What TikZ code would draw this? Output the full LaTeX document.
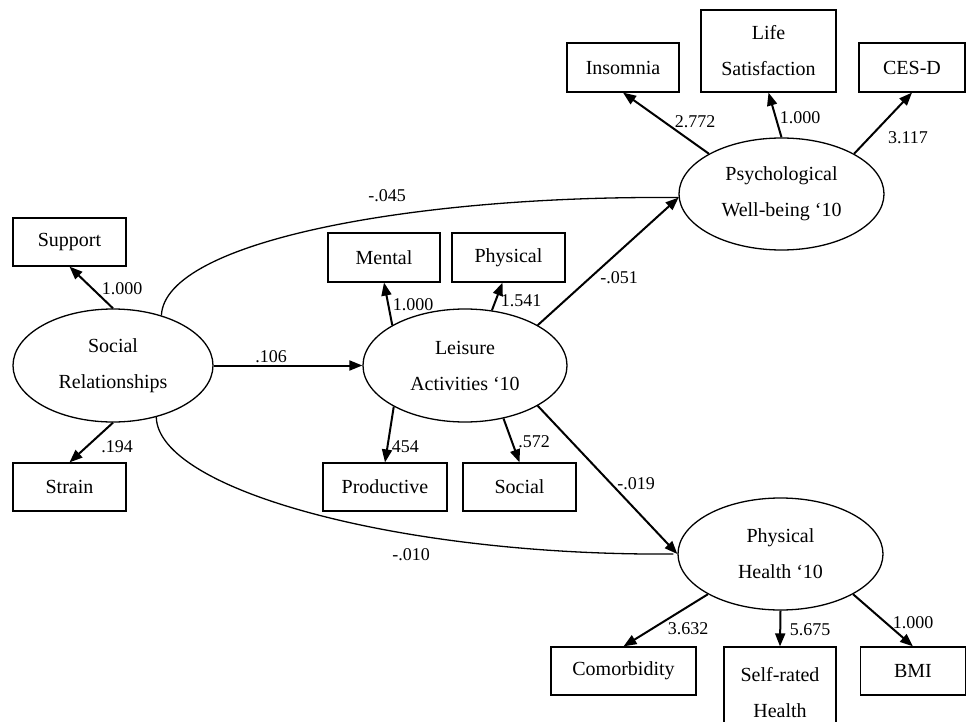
\documentclass[tikz,border=0pt]{standalone}
\usepackage{fontspec}
\setmainfont{Liberation Serif}
\usetikzlibrary{shapes.geometric,arrows.meta}
\begin{document}
\begin{tikzpicture}[x=1pt,y=-1pt,
  obs/.style={draw,line width=1.2pt,rectangle,inner sep=0pt,align=center,font=\fontsize{20}{36}\selectfont},
  lat/.style={draw,line width=1.3pt,ellipse,inner sep=0pt,align=center,font=\fontsize{20}{36}\selectfont},
  arr/.style={line width=2pt,-{Triangle[length=13pt,width=10pt]}},
  cov/.style={line width=1.3pt},
  lbl/.style={font=\fontsize{18}{20}\selectfont,inner sep=0pt}]
\useasboundingbox (0,0) rectangle (966,722);
% latent variables
\node[lat,minimum width=200pt,minimum height=113pt] (SR) at (113,365.5) {Social\\Relationships};
\node[lat,minimum width=204pt,minimum height=113pt] (LA) at (465,365.5) {Leisure\\Activities ‘10};
\node[lat,minimum width=205pt,minimum height=112pt] (PW) at (781.5,194) {Psychological\\Well-being ‘10};
\node[lat,minimum width=205pt,minimum height=112pt] (PH) at (780.5,554) {Physical\\Health ‘10};
% observed variables
\node[obs,minimum width=113pt,minimum height=48pt] (Sup) at (69.5,242) {Support};
\node[obs,minimum width=113pt,minimum height=48pt] (Str) at (69.5,487) {Strain};
\node[obs,minimum width=112pt,minimum height=49pt] (Men) at (384,257.5) {Mental};
\node[obs,minimum width=113pt,minimum height=49pt] (Phy) at (508.5,257.5) {Physical};
\node[obs,minimum width=124pt,minimum height=48pt] (Pro) at (385,487) {Productive};
\node[obs,minimum width=113pt,minimum height=48pt] (Soc) at (519.5,487) {Social};
\node[obs,minimum width=112pt,minimum height=49pt] (Ins) at (623,67.5) {Insomnia};
\node[obs,minimum width=135pt,minimum height=82pt] (Lif) at (768.5,51) {Life\\Satisfaction};
\node[obs,minimum width=106pt,minimum height=49pt] (Ces) at (912,67.5) {CES-D};
\node[obs,minimum width=145pt,minimum height=48pt] (Com) at (623.5,671) {Comorbidity};
\node[obs,minimum width=112pt,minimum height=91pt] (Srh) at (780,692.5) {Self-rated\\Health};
\node[obs,minimum width=105pt,minimum height=48pt] (Bmi) at (913,671) {BMI};
% measurement arrows
\draw[arr] (SR.north) -- (Sup.south);
\draw[arr] (SR.south) -- (Str.north);
\draw[arr] (LA.151) -- (Men.south);
\draw[arr] (LA.64) -- ([xshift=-6pt]Phy.south);
\draw[arr] (LA.210) -- (Pro.north);
\draw[arr] (LA.306) -- (Soc.north);
\draw[arr] (PW.151) -- (Ins.south);
\draw[arr] (PW.north) -- (Lif.south);
\draw[arr] (PW.29) -- (Ces.south);
\draw[arr] (PH.209) -- (Com.north);
\draw[arr] (PH.south) -- (Srh.north);
\draw[arr] (PH.331) -- (Bmi.north);
% structural paths
\draw[arr] (SR.east) -- (LA.west);
\draw[arr] (LA.29) -- (PW.182);
\draw[arr] (LA.331) -- (PH.west);
\draw[cov] (SR.46.5) .. controls (165,240) and (420,195) .. (PW.182);
\draw[cov,shorten >=4pt] (SR.-50) .. controls (158,490) and (400,556) .. (PH.west);
% labels
\node[lbl] (l1) at (122,289) {1.000};
\node[lbl] (l2) at (117,447) {.194};
\node[lbl] (l3) at (271,357) {.106};
\node[lbl] (l4) at (413,305) {1.000};
\node[lbl] (l5) at (521,301) {1.541};
\node[lbl] (l6) at (403,447) {.454};
\node[lbl] (l7) at (534,442) {.572};
\node[lbl] (l8) at (619,278) {-.051};
\node[lbl] (l9) at (636,484) {-.019};
\node[lbl] (l10) at (387,196) {-.045};
\node[lbl] (l11) at (411,555) {-.010};
\node[lbl] (l12) at (695,122) {2.772};
\node[lbl] (l13) at (800,118) {1.000};
\node[lbl] (l14) at (908,138) {3.117};
\node[lbl] (l15) at (688,629) {3.632};
\node[lbl] (l16) at (810,630) {5.675};
\node[lbl] (l17) at (913,623) {1.000};
\end{tikzpicture}
\end{document}
